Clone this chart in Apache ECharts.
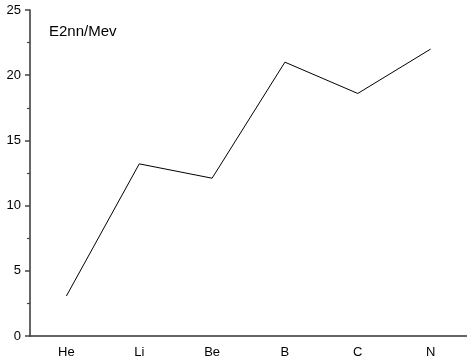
<!DOCTYPE html>
<html><head><meta charset="utf-8">
<script src="https://cdn.jsdelivr.net/npm/echarts@6/dist/echarts.min.js"></script>
<style>html,body{margin:0;padding:0;background:#fff}#c{width:467px;height:363px}</style>
</head><body><div id="c"></div>
<script>
const categories = ['He','Li','Be','B','C','N'];
const values = [3.07, 13.2, 12.1, 21.0, 18.6, 22.0];
const yTicks = [0,5,10,15,20,25];

const chart = echarts.init(document.getElementById('c'), null, {renderer:'canvas'});
const font = 'Liberation Sans, Arial, sans-serif';
chart.setOption({
  animation:false,
  backgroundColor:'#fff',
  title:{text:'E2nn/Mev', left:49, top:24, padding:0, textStyle:{fontFamily:font, fontSize:15, fontWeight:'normal', color:'#000'}},
  grid:{left:30, right:-1, top:10, bottom:27, containLabel:false},
  xAxis:[{
    type:'category', data:categories, boundaryGap:true, position:'bottom',
    axisLine:{lineStyle:{color:'#333', width:1.5}},
    axisTick:{inside:false, alignWithLabel:true, length:5, lineStyle:{color:'#444', width:1.5}},
    axisLabel:{fontFamily:font, fontSize:13, color:'#000', margin:10},
    splitLine:{show:false}
  },{
    type:'category', data:categories, boundaryGap:true, position:'bottom',
    axisLine:{show:false},
    axisTick:{inside:false, alignWithLabel:false, length:3, lineStyle:{color:'#444', width:1.2}},
    axisLabel:{show:false}, splitLine:{show:false}
  }],
  yAxis:{
    type:'value', min:yTicks[0], max:yTicks[yTicks.length-1], interval:5,
    axisLine:{show:true, lineStyle:{color:'#333', width:1.5}},
    axisTick:{show:true, inside:false, length:5, lineStyle:{color:'#444', width:1.5}},
    minorTick:{show:true, splitNumber:2, length:3, lineStyle:{color:'#444', width:1.2}},
    axisLabel:{fontFamily:font, fontSize:13, color:'#000', margin:9},
    splitLine:{show:false}
  },
  series:[{
    type:'line', data:values, xAxisIndex:0, symbol:'none',
    lineStyle:{color:'#000', width:1}
  }]
});
</script></body></html>
